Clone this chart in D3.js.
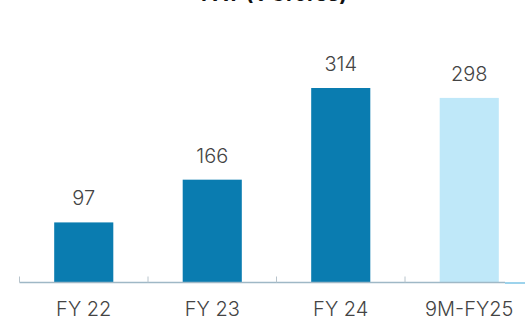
<!DOCTYPE html>
<html>
<head>
<meta charset="utf-8">
<script src="https://cdn.jsdelivr.net/npm/d3@7"></script>
<style>
  body { margin: 0; background: #fff; }
  svg { display: block; }
</style>
</head>
<body>
<div id="chart"></div>
<script>
// Chart data
const categories = ["FY 22", "FY 23", "FY 24", "9M-FY25"];
const values = [97, 166, 314, 298];
const barColors = ["#0a7cb0", "#0a7cb0", "#0a7cb0", "#bfe8f9"];
const title = "PAT (₹ Crores)";

const width = 525;
const height = 328;
const baseY = 282.5;

const svg = d3.select("#chart")
    .append("svg")
    .attr("width", width)
    .attr("height", height);

// Title, mostly cut off at the top edge (as in the source image)
svg.append("text")
    .attr("x", 274)
    .attr("y", 0.5)
    .attr("text-anchor", "middle")
    .style("font-family", "Inter, sans-serif")
    .style("font-size", "21px")
    .style("font-weight", "bold")
    .style("fill", "#111")
    .text(title);

// Scales
const xScale = d3.scaleBand()
    .domain(categories)
    .range([19.5, 533.5])
    .paddingInner(0.54)
    .paddingOuter(0.27);

const yScale = d3.scaleLinear()
    .domain([0, 314])
    .range([baseY, 88]);

// Bars
svg.selectAll(".bar")
    .data(values)
    .enter()
    .append("rect")
    .attr("class", "bar")
    .attr("x", (d, i) => xScale(categories[i]))
    .attr("y", d => yScale(d))
    .attr("width", xScale.bandwidth())
    .attr("height", d => baseY - yScale(d))
    .attr("fill", (d, i) => barColors[i]);

// Value labels
svg.selectAll(".val")
    .data(values)
    .enter()
    .append("text")
    .attr("class", "val")
    .attr("x", (d, i) => xScale(categories[i]) + xScale.bandwidth() / 2)
    .attr("y", d => yScale(d) - 17)
    .attr("text-anchor", "middle")
    .style("font-family", "Inter, sans-serif")
    .style("font-size", "20px")
    .style("font-weight", "300")
    .style("fill", "#444")
    .text(d => d);

// Axis line, ticks at the left edge of each band
const step = xScale.step();
const x0 = 19.5;
svg.append("line")
    .attr("x1", x0).attr("x2", 505)
    .attr("y1", baseY).attr("y2", baseY)
    .style("stroke", "#9fb8c6")
    .style("stroke-width", 1.5);

svg.append("line")
    .attr("x1", 505).attr("x2", 525)
    .attr("y1", baseY + 0.5).attr("y2", baseY + 0.5)
    .style("stroke", "#7cc4e6")
    .style("stroke-width", 1.5);

svg.selectAll(".tick")
    .data(categories)
    .enter()
    .append("line")
    .attr("class", "tick")
    .attr("x1", (d, i) => x0 + i * step)
    .attr("x2", (d, i) => x0 + i * step)
    .attr("y1", baseY - 6)
    .attr("y2", baseY)
    .style("stroke", "#b8c4cc")
    .style("stroke-width", 1);

// Category labels
svg.selectAll(".cat")
    .data(categories)
    .enter()
    .append("text")
    .attr("class", "cat")
    .attr("x", d => xScale(d) + xScale.bandwidth() / 2)
    .attr("y", 316)
    .attr("text-anchor", "middle")
    .style("font-family", "Inter, sans-serif")
    .style("font-size", "20px")
    .style("font-weight", "300")
    .style("fill", "#444")
    .text(d => d);
</script>
</body>
</html>
